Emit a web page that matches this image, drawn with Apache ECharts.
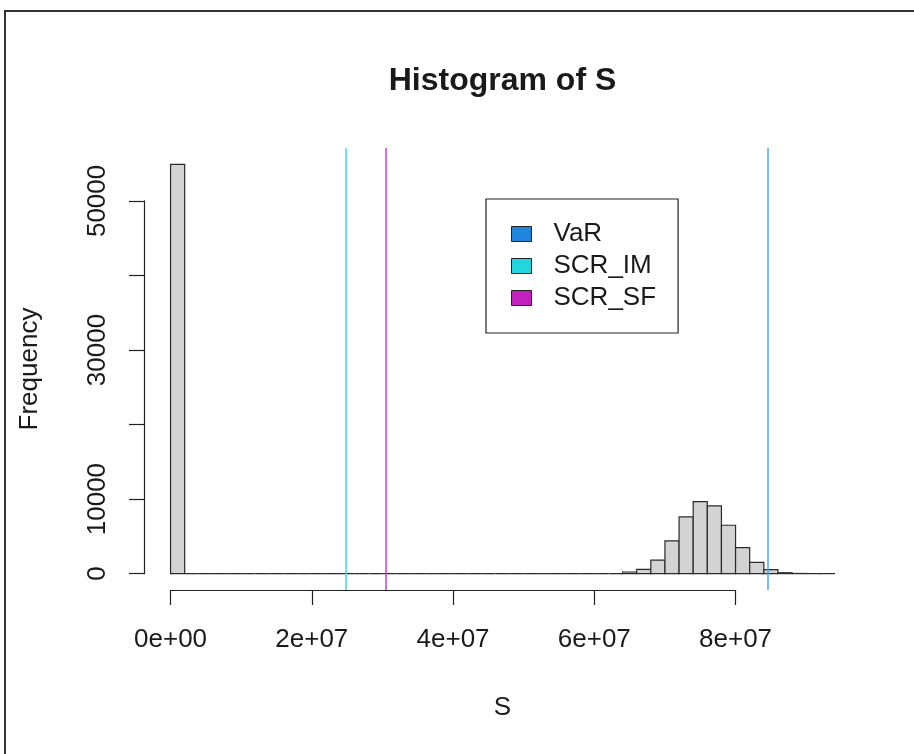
<!DOCTYPE html>
<html>
<head>
<meta charset="utf-8">
<script src="https://cdn.jsdelivr.net/npm/echarts@6/dist/echarts.min.js"></script>
<style>
html,body{margin:0;padding:0;background:#fff;}
#chart{width:914px;height:754px;}
</style>
</head>
<body>
<div id="chart"></div>
<script>
// ---- data ----
const binWidth = 2e6;
const counts = [
  54900,
  0,0,0,0,0,0,0,0,0,0,
  0,0,0,0,0,0,0,0,0,0,
  0,0,0,0,0,0,0,0,0,0,
  0,
  220, 580, 1800, 4400, 7600, 9660, 9080, 6490, 3480, 1500, 550, 120, 25, 5, 1
];
const riskNames = ['VaR', 'SCR_IM', 'SCR_SF'];
const riskValues = [8.46e7, 2.48e7, 3.05e7];
const xTickValues = [0, 2e7, 4e7, 6e7, 8e7];
const xTickLabels = ['0e+00', '2e+07', '4e+07', '6e+07', '8e+07'];
const yTickValues = [0, 10000, 20000, 30000, 40000, 50000];
const yTickLabels = ['0', '10000', '', '30000', '', '50000'];

// ---- styles / layout ----
const W = 914, H = 754;
const FONT = '"Liberation Sans", Arial, Helvetica, sans-serif';
const TXT = '#1a1a1a';
const AX = '#222';
const legendColors = ['#2185e0', '#22d6e0', '#c320be'];
const lineColors = ['#4aa6ee', '#34dae6', '#d23ad2'];
const plot = {left: 144, right: 861, top: 148, bottom: 590};

const binData = counts.map((c, i) => [i * binWidth, (i + 1) * binWidth, c]);
const xDataMax = counts.length * binWidth;
const yDataMax = Math.max(...counts);
const xMin0 = -0.04 * xDataMax, xMax0 = xDataMax * 1.04;
const yMin0 = -0.04 * yDataMax, yMax0 = yDataMax * 1.04;
const xpx = v => plot.left + (v - xMin0) / (xMax0 - xMin0) * (plot.right - plot.left);
const ypx = v => plot.bottom - (v - yMin0) / (yMax0 - yMin0) * (plot.bottom - plot.top);

const xTickMin = xTickValues[0], xTickMax = xTickValues[xTickValues.length - 1];
const yTickMin = yTickValues[0], yTickMax = yTickValues[yTickValues.length - 1];

const chart = echarts.init(document.getElementById('chart'), null, {renderer: 'canvas'});

const option = {
  animation: false,
  backgroundColor: '#fff',
  title: {
    text: 'Histogram of S',
    left: (plot.left + plot.right) / 2,
    top: 65,
    padding: 0,
    textAlign: 'center',
    textStyle: {fontFamily: FONT, fontSize: 32, fontWeight: 'bold', color: TXT}
  },
  graphic: [{
    type: 'rect', silent: true, z: 100,
    shape: {x: 5, y: 11, width: W + 20, height: H + 20},
    style: {fill: 'none', stroke: '#333', lineWidth: 2}
  }],
  grid: [
    {left: plot.left, right: W - plot.right, top: plot.top, bottom: H - plot.bottom},
    {left: xpx(xTickMin), right: W - xpx(xTickMax), top: plot.top, bottom: H - plot.bottom},
    {left: plot.left, right: W - plot.right, top: ypx(yTickMax), bottom: H - ypx(yTickMin)}
  ],
  xAxis: [
    {
      gridIndex: 0, type: 'value', min: xMin0, max: xMax0,
      axisLine: {show: false}, axisTick: {show: false}, axisLabel: {show: false}, splitLine: {show: false},
      name: 'S', nameLocation: 'middle', nameGap: 105,
      nameTextStyle: {fontFamily: FONT, fontSize: 26, color: TXT}
    },
    {
      gridIndex: 1, type: 'value', min: xTickMin, max: xTickMax, interval: 2e7,
      axisLine: {show: true, lineStyle: {color: AX, width: 1.2}},
      axisTick: {show: true, inside: false, length: 15, lineStyle: {color: AX, width: 1.2}},
      axisLabel: {
        show: true, margin: 37, interval: 0,
        fontFamily: FONT, fontSize: 26, color: TXT,
        formatter: v => { const i = xTickValues.indexOf(v); return i >= 0 ? xTickLabels[i] : ''; }
      },
      splitLine: {show: false}
    },
    {
      gridIndex: 2, type: 'value', min: 0, max: 1, show: false
    }
  ],
  yAxis: [
    {
      gridIndex: 0, type: 'value', min: yMin0, max: yMax0,
      axisLine: {show: false}, axisTick: {show: false}, axisLabel: {show: false}, splitLine: {show: false},
      name: 'Frequency', nameLocation: 'middle', nameGap: 101,
      nameTextStyle: {fontFamily: FONT, fontSize: 26, color: TXT}
    },
    {
      gridIndex: 1, type: 'value', min: 0, max: 1, show: false
    },
    {
      gridIndex: 2, type: 'value', min: yTickMin, max: yTickMax, interval: 10000,
      axisLine: {show: true, lineStyle: {color: AX, width: 1.2}},
      axisTick: {show: true, inside: false, length: 15, lineStyle: {color: AX, width: 1.2}},
      axisLabel: {
        show: true, margin: 33, rotate: 90, interval: 0,
        fontFamily: FONT, fontSize: 26, color: TXT,
        formatter: v => { const i = yTickValues.indexOf(v); return i >= 0 ? yTickLabels[i] : ''; }
      },
      splitLine: {show: false}
    }
  ],
  legend: {
    orient: 'vertical', left: 486, top: 199,
    padding: [22, 22, 22, 25], itemGap: 6, itemWidth: 20, itemHeight: 15,
    icon: 'rect', borderColor: '#222', borderWidth: 1.2, borderRadius: 0, backgroundColor: '#fff',
    itemStyle: {borderColor: '#222', borderWidth: 1},
    textStyle: {fontFamily: FONT, fontSize: 26, color: TXT, padding: [0, 0, 0, 17]},
    selectedMode: false,
    data: riskNames
  },
  series: [
    {
      type: 'custom', name: 'S', xAxisIndex: 0, yAxisIndex: 0, silent: true,
      data: binData,
      encode: {x: [0, 1], y: 2},
      renderItem: function (params, api) {
        const p0 = api.coord([api.value(0), api.value(2)]);
        const p1 = api.coord([api.value(1), 0]);
        return {
          type: 'rect',
          shape: {x: p0[0], y: p0[1], width: p1[0] - p0[0], height: p1[1] - p0[1]},
          style: {fill: '#d3d3d3', stroke: '#2a2a2a', lineWidth: 1.2}
        };
      }
    }
  ].concat(riskNames.map((n, i) => ({
    type: 'line', name: n, xAxisIndex: 0, yAxisIndex: 0,
    data: [], color: legendColors[i],
    itemStyle: {color: legendColors[i]},
    markLine: {
      silent: true, symbol: 'none', label: {show: false},
      lineStyle: {color: lineColors[i], width: 1.5, type: 'solid'},
      data: [{xAxis: riskValues[i]}]
    }
  })))
};

chart.setOption(option);
</script>
</body>
</html>
